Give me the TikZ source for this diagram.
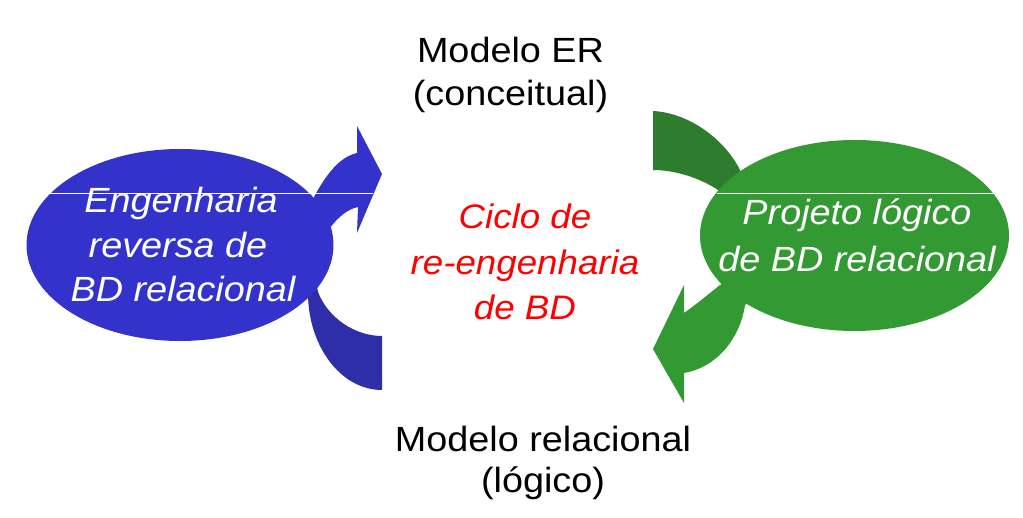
\documentclass[tikz,border=0pt]{standalone}
\usepackage{fontspec}
\setmainfont{Liberation Sans}[FakeStretch=1.08]
\usetikzlibrary{shapes.geometric}
\definecolor{bluemain}{HTML}{3333CC}
\definecolor{bluedark}{HTML}{2E2EA8}
\definecolor{greenmain}{HTML}{339933}
\definecolor{greendark}{HTML}{2E7D2E}
\definecolor{redtxt}{HTML}{FF0000}
\tikzset{
  blob/.style={ellipse, inner sep=0pt, minimum width=307pt, minimum height=192pt},
  blacktxt/.style={anchor=base, inner sep=0pt, font=\fontsize{35}{42}\selectfont, text=black},
  redlbl/.style={anchor=base, inner sep=0pt, font=\fontsize{34}{42}\selectfont\itshape, text=redtxt},
  whitelbl/.style={anchor=base, inner sep=0pt, font=\fontsize{35}{42}\selectfont\itshape, text=white},
  glint/.style={draw=white, line width=1pt}
}
\begin{document}
\begin{tikzpicture}[x=1pt, y=-1pt]
\useasboundingbox (0,0) rectangle (1023,518);
% arrows (under the ellipses)
\fill[bluemain] (305,215) -- (315,195) .. controls (328,172) and (340,157) .. (357,153)
  -- (357,126) -- (382,174) -- (357,233) -- (358,207)
  .. controls (348,209) and (338,217) .. (330,228) -- (305,235) -- cycle;
\fill[bluedark] (382,336) -- (382,390) .. controls (340,390) and (308,345) .. (308,293)
  -- (300,270) -- (315,275) -- (318,292) .. controls (328,318) and (355,336) .. (382,336) -- cycle;
\fill[greendark] (653,111) -- (653,170) .. controls (675,170) and (700,178) .. (718,190)
  -- (740,190) -- (740,170) .. controls (725,140) and (690,113) .. (653,111) -- cycle;
\fill[greenmain] (684,313) -- (684,285) -- (653,349) -- (684,403) -- (684,373)
  .. controls (715,368) and (740,340) .. (745,305) -- (760,290) -- (730,280) -- (720,285)
  .. controls (705,297) and (694,306) .. (684,313) -- cycle;
% ellipses
\node[blob, fill=bluemain] (rev) at (180,245) {};
\node[blob, fill=greenmain, minimum width=309pt, minimum height=191pt] (proj) at (854.5,235.5) {};
% thin white lines
\coordinate (bl1) at (48,194); \coordinate (bl2) at (373,194);
\coordinate (gl1) at (717,194); \coordinate (gl2) at (995,194);
\draw[glint] (bl1) -- (bl2);
\draw[glint] (gl1) -- (gl2);
% texts
\node[blacktxt] (er1) at (510.5,63) {Modelo ER};
\node[blacktxt] (er2) at (510.5,106) {(conceitual)};
\node[blacktxt] (rl1) at (543,452) {Modelo relacional};
\node[blacktxt] (rl2) at (543,493) {(lógico)};
\node[redlbl] (c1) at (525,229) {Ciclo de};
\node[redlbl] (c2) at (525,275) {re-engenharia};
\node[redlbl] (c3) at (525,320) {de BD};
\node[whitelbl] (b1) at (181,213) {Engenharia};
\node[whitelbl] (b2) at (178,258) {reversa de};
\node[whitelbl] (b3) at (183,302) {BD relacional};
\node[whitelbl] (g1) at (857,225) {Projeto lógico};
\node[whitelbl] (g2) at (857,272) {de BD relacional};
\end{tikzpicture}
\end{document}
